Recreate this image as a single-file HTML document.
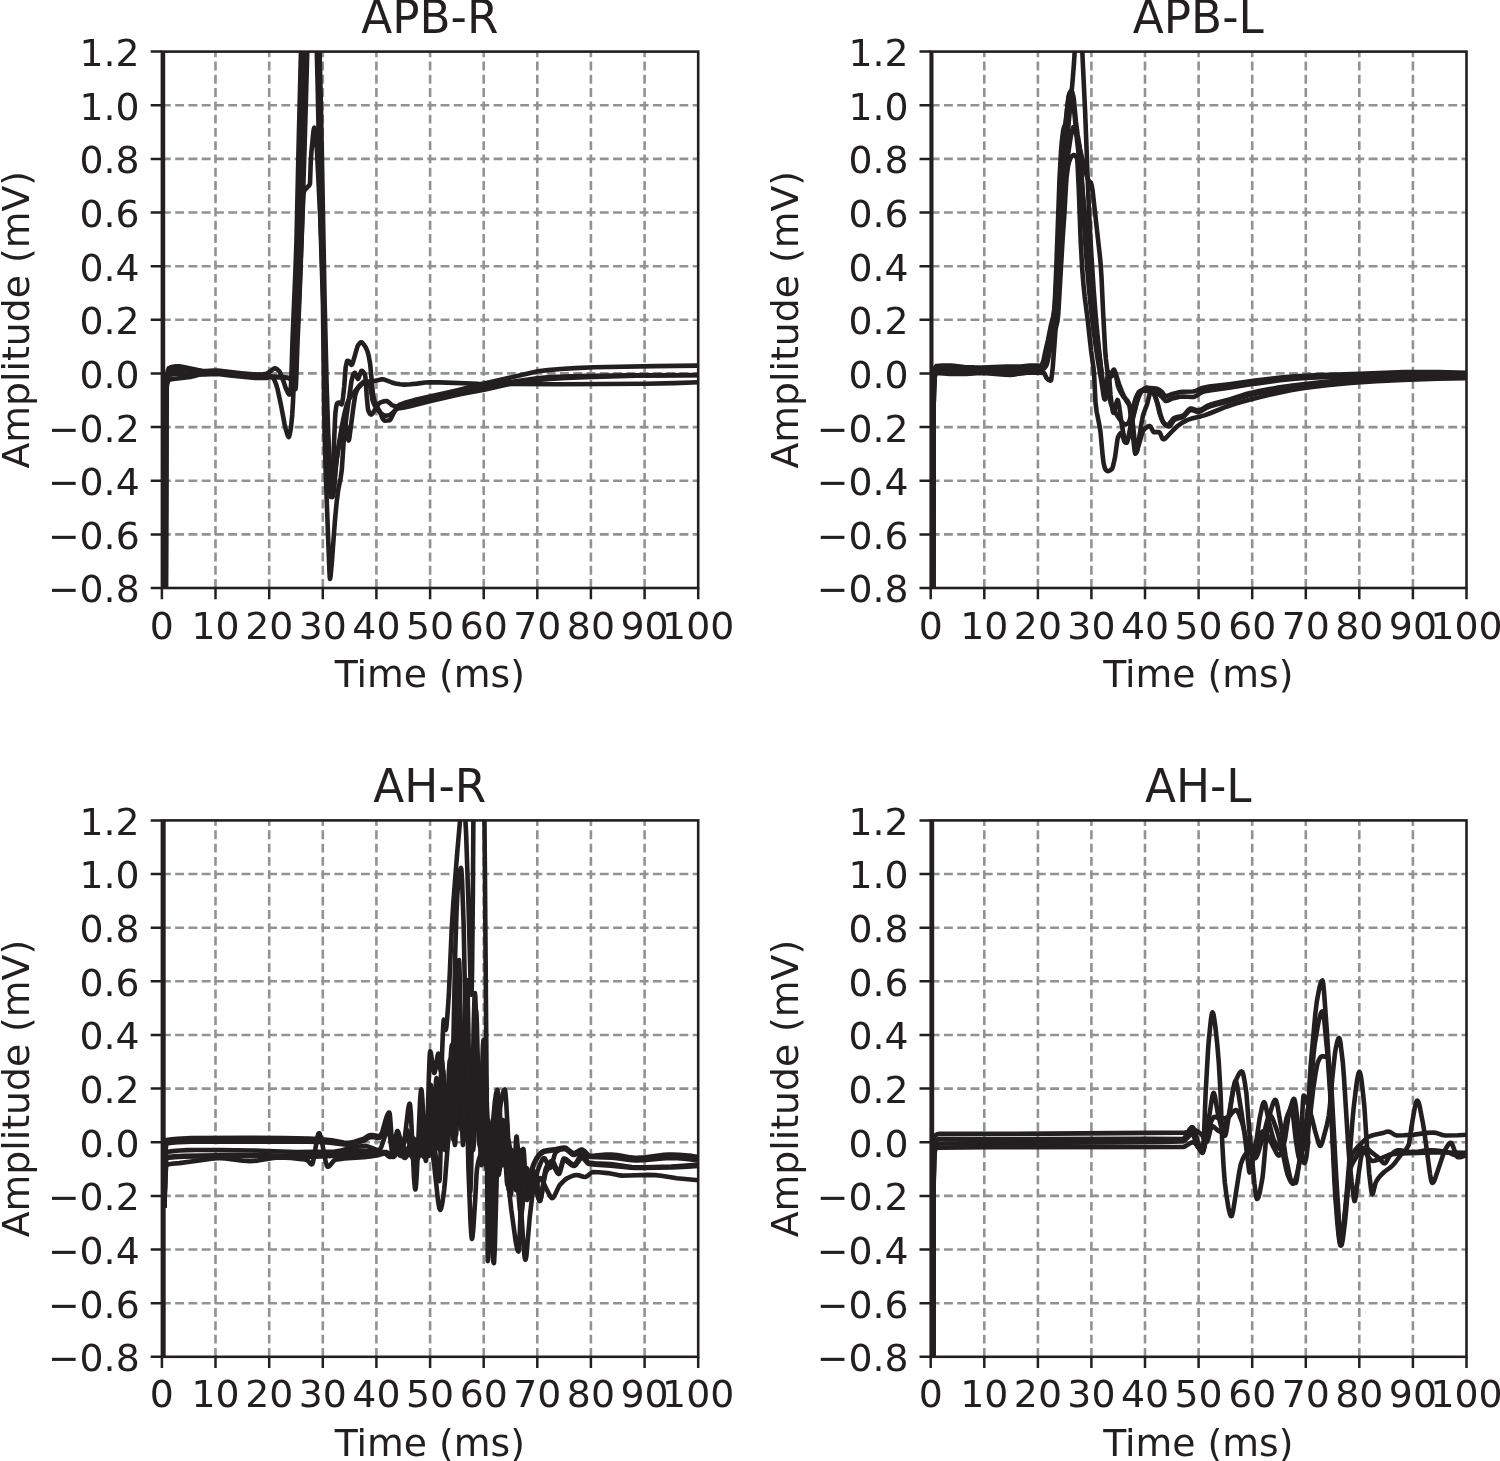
<!DOCTYPE html>
<html lang="en">
<head>
<meta charset="utf-8">
<title>Compound muscle action potentials</title>
<style>
html,body{margin:0;padding:0;background:#fff;}
body{width:1500px;height:1461px;overflow:hidden;}
svg{display:block;}
</style>
</head>
<body>
<svg width="1500" height="1461" viewBox="0 0 1500 1461">
<rect width="1500" height="1461" fill="#fff"/>
<defs>
<clipPath id="c0"><rect x="161.9" y="51.6" width="536.3" height="536.4"/></clipPath>
<clipPath id="c1"><rect x="930.7" y="51.6" width="535.8" height="536.4"/></clipPath>
<clipPath id="c2"><rect x="161.9" y="820.4" width="536.3" height="536.4"/></clipPath>
<clipPath id="c3"><rect x="930.7" y="820.4" width="535.8" height="536.4"/></clipPath>
</defs>
<g id="ax0">
<path d="M215.5,588 V51.6 M269.2,588 V51.6 M322.8,588 V51.6 M376.4,588 V51.6 M430.1,588 V51.6 M483.7,588 V51.6 M537.3,588 V51.6 M590.9,588 V51.6 M644.6,588 V51.6 M161.9,534.4 H698.2 M161.9,480.7 H698.2 M161.9,427.1 H698.2 M161.9,373.4 H698.2 M161.9,319.8 H698.2 M161.9,266.2 H698.2 M161.9,212.5 H698.2 M161.9,158.9 H698.2 M161.9,105.2 H698.2" fill="none" stroke="#909295" stroke-width="2.6" stroke-dasharray="8.9 4.37" stroke-dashoffset="0"/>
<g clip-path="url(#c0)" fill="none" stroke="#231f20" stroke-width="4.6" stroke-linejoin="round" stroke-linecap="round">
<path d="M162.9,40 162.9,600"/>
<path d="M165.6,600 165.9,420 166.4,380"/>
<path d="M165.8,600 166.2,420 166.8,384 167.8,377.4 168.6,375.3 169,375 171.8,374.4 176.6,374 189,374.5 205,374.5 215.8,374 219.8,374.3 229.8,375.5 255,377.9 266.2,378 270.6,377.1 272.2,377 273,377.6 274.2,379.7 276.2,384.5 277.4,388.6 281,405.1 284.6,424.2 285.4,427.8 287,433.5 287.8,435.8 288.6,437 289,436.7 289.8,434.1 291,427.4 292.2,415 293,401.7 294.2,373.8 296.2,311.4 299,240 300.2,201.3 303,94.2 305.8,-34.5 307.8,-75.8 308.6,-85.7 309,-88.6 309.5,-90 309.8,-89.4 310.2,-86.8 311,-76.9 313.4,-32.7 315,1.4 316.8,51.6 317.8,92.3 320.6,228 322.9,300 324.2,414 324.6,434.5 325.8,475.9 329.4,571 329.8,577.9 330,578.9 330.2,578.5 330.6,576 331.8,562.8 335,519.8 336.6,502.6 338.2,490 340.6,478.1 341.8,469.9 343.7,441 346.6,415.3 351.4,381.5 353,375.1 353.8,373.6 354.6,372.7 355,372.8 355.4,373.4 357.4,378.2 358,378.9 358.6,378.1 359.8,374.5 361.4,370.9 361.8,370.7 362.6,371.2 363.8,372.7 364.6,374.1 365.4,376.8 366.7,395.7 367.8,407.7 368.2,410.2 369,412.2 369.8,413.6 370.6,414.4 371.2,414.6 372.2,413.9 373.8,411.6 378,404.5 379.4,403.2 380.6,402.4 384.2,401.2 386.4,401 387.4,401.3 389.8,403.1 391.8,405.1 394.6,406.1 395.8,406.3 397.8,406.2 403.8,405.6 411.8,403.9 425.8,399.9 432.2,398.3 480.2,387.5 495.8,384.5 509,382.2 537,378.2 550.2,377 578.6,376 627.4,375.4 698.5,375"/>
<path d="M165.8,600 166.2,420 166.6,384.1 167,376.1 167.8,370.7 168.6,368.4 169,368 170.2,367.5 173,366.7 175.8,366.4 179,366.3 182.2,366.8 197.8,370.1 202.2,370.8 205.4,371 213.8,370.5 217.8,370.6 241.4,373.2 253,374.3 258,374.5 263,374.3 266.6,373.8 267.8,373.1 273.4,368.9 274.6,368.4 275.4,368.4 276.6,368.9 278.2,370.2 279.4,371.5 280.2,372.9 283.4,381.1 285.8,388.3 288.2,393.4 289,394.4 289.4,394.5 289.8,393.8 290.2,392.1 291,385.5 291.4,375.8 292.5,340 295.4,271.2 296.5,240 298.6,145.8 303.4,-47.5 305,-83.8 306.2,-105.5 307,-115.2 307.4,-118.2 307.8,-119.8 308,-120 308.2,-119.8 308.6,-118.6 309.4,-113 311,-92.2 315,-24.1 317.4,29.2 319,81 324.6,341.7 326.2,405.6 327,430 328.2,456.1 330.2,490.6 330.6,495.2 331,497 331.4,495.2 331.8,490.7 332.6,478 335,419.9 335.4,413.1 336.2,406.8 337,403.6 337.8,402.9 338.6,402.5 339.4,402.6 341,404.1 341.6,404.3 342.2,402.8 343,397.5 344.2,386.5 345.7,367 347,361.3 347.4,360.8 347.8,360.8 349.4,361.6 351,364.5 351.4,364.9 351.8,364.8 352.2,364.2 353,362.1 357.4,346.6 357.9,345.6 359.4,343.5 360.2,342.8 361,342.3 361.8,342.4 362.6,343 365.4,346.8 367.4,351.1 368.6,355.3 370.2,364.4 373,394.4 373.8,398.5 374.6,401.3 376.6,406.2 379.8,411.5 382.2,417.8 383.8,420.1 384.8,420.7 387.8,420.5 389.8,420.2 391,418.6 395.4,409.7 397.8,406.2 399,405.1 400.6,404.3 405.8,402.4 414.2,400.1 456.6,390.4 484.2,383.6 537.8,371.3 547.8,370.1 560.6,369 575,368.1 594.2,367.2 655,366.1 698.5,365.6"/>
<path d="M165.8,600 166.2,420 166.8,386 167.4,383 168.2,380.8 169,380 171.4,379.3 190.2,377 193.4,376.3 200.6,374.3 203.4,373.7 212.6,373 220.2,373.2 254.2,376.3 284.6,377.7 288.2,378 289,378.3 290.2,379.1 292,381 292.6,382.6 293.8,387.6 294.2,388.7 294.5,389 294.6,388.8 295,385.5 295.4,378.6 297,340 299.8,282.1 301.8,231.9 304.6,146.7 308.6,4.9 309.4,-18 311.4,-52.7 311.8,-56.9 312.2,-59.4 312.5,-60 313,-58.7 313.8,-51.9 316.6,-11 318.2,17.5 319.6,51.6 321,109.4 324.6,300 326.6,383.5 328.2,432.5 329.8,469 331.4,490.5 331.8,494.1 332.2,496.4 332.5,497 333,494.9 335.4,469.8 337,457.4 339.8,440.7 343.8,421.3 344.2,420.3 344.6,420 345,420.9 345.4,422.5 346.6,428.7 347.8,437.6 348.2,439.7 348.6,440.5 349,439.7 349.4,437.7 353.8,404.3 355,396.6 355.8,393 357.4,389.3 359,387 362.6,383.4 363.8,382.5 365,381.9 366.6,381.6 373,381.2 381,379.4 382.6,379.3 385,379.8 387.8,380.8 391.8,382.5 395.4,383.5 400.2,384.3 404.5,384.6 410.2,384.3 417,383.6 425.4,382.5 429.8,382.2 439.4,382.4 478.2,383.8 560,384.2 645.8,383.7 674.6,383.1 698.5,382.2"/>
<path d="M165.8,600 166.2,420 166.8,380 167.4,375.5 168.2,372.1 168.6,371.3 169,371 171.8,370.1 175,369.6 179,369.5 201.4,372.4 205.8,372.5 214.6,372 219.8,372.2 236.6,373.6 257,375.9 279.4,376.8 285,377.3 288.6,378 290,378.5 290.6,378.9 291.4,380 293,383 294.6,387.6 295,388.5 295.5,389 295.8,387.1 296.2,379.8 297.4,345 299.4,300 302.6,212.7 303.4,195.5 303.8,192 304.6,190.2 307.4,187.1 309,185.7 310,183.7 310.7,163.2 311.4,151.9 313.4,131.8 313.8,129 314.3,127.6 314.6,128.1 315,130 316,138 317,151.4 321,233.1 322.6,279.3 325.3,380 327,420.3 328.6,449.9 329.8,467.7 331.8,489.4 332.6,494.3 333,495 333.4,493.8 333.8,490.9 334.6,483 336,465 337.8,450.7 342.2,424.4 344.6,413 346.2,406.5 347,404 348.6,400.2 350.2,397.3 351.8,394.9 356,390 360.2,384.7 363.4,382.1 365,381.2 366.2,381 367.4,381.7 368.6,383.3 370,386 370.6,388.4 372.5,400 373.8,403.7 375.5,407 377.8,410.2 381,413.4 383.8,415.2 385,415.6 385.8,415.7 389,415.3 390.2,414.8 392.6,412.9 395.4,410.1 397,408.9 398,408.5 403,407.7 409,406.5 428.6,401.4 453.4,395.7 462.6,393.8 484.2,389.8 509.4,383.9 515.4,382.7 520.6,381.9 535,380.3 549.8,379 566.2,378 585.8,377.1 636.2,375.8 698.5,375.2"/>
</g>
<path d="M161.9,588 v11.2 M215.5,588 v11.2 M269.2,588 v11.2 M322.8,588 v11.2 M376.4,588 v11.2 M430.1,588 v11.2 M483.7,588 v11.2 M537.3,588 v11.2 M590.9,588 v11.2 M644.6,588 v11.2 M698.2,588 v11.2 M161.9,588 h-11.2 M161.9,534.4 h-11.2 M161.9,480.7 h-11.2 M161.9,427.1 h-11.2 M161.9,373.4 h-11.2 M161.9,319.8 h-11.2 M161.9,266.2 h-11.2 M161.9,212.5 h-11.2 M161.9,158.9 h-11.2 M161.9,105.2 h-11.2 M161.9,51.6 h-11.2" fill="none" stroke="#231f20" stroke-width="2.5"/>
<rect x="161.9" y="51.6" width="536.3" height="536.4" fill="none" stroke="#231f20" stroke-width="2.6"/>
<g font-family="DejaVu Sans, Liberation Sans, sans-serif" font-size="37.8" fill="#231f20">
<text x="161.9" y="638.6" text-anchor="middle">0</text>
<text x="215.5" y="638.6" text-anchor="middle">10</text>
<text x="269.2" y="638.6" text-anchor="middle">20</text>
<text x="322.8" y="638.6" text-anchor="middle">30</text>
<text x="376.4" y="638.6" text-anchor="middle">40</text>
<text x="430.1" y="638.6" text-anchor="middle">50</text>
<text x="483.7" y="638.6" text-anchor="middle">60</text>
<text x="537.3" y="638.6" text-anchor="middle">70</text>
<text x="590.9" y="638.6" text-anchor="middle">80</text>
<text x="644.6" y="638.6" text-anchor="middle">90</text>
<text x="698.2" y="638.6" text-anchor="middle">100</text>
<text x="139.7" y="602.4" text-anchor="end">−0.8</text>
<text x="139.7" y="548.8" text-anchor="end">−0.6</text>
<text x="139.7" y="495.1" text-anchor="end">−0.4</text>
<text x="139.7" y="441.5" text-anchor="end">−0.2</text>
<text x="139.7" y="387.8" text-anchor="end">0.0</text>
<text x="139.7" y="334.2" text-anchor="end">0.2</text>
<text x="139.7" y="280.6" text-anchor="end">0.4</text>
<text x="139.7" y="226.9" text-anchor="end">0.6</text>
<text x="139.7" y="173.3" text-anchor="end">0.8</text>
<text x="139.7" y="119.6" text-anchor="end">1.0</text>
<text x="139.7" y="66" text-anchor="end">1.2</text>
<text x="429.8" y="686.7" text-anchor="middle" font-size="37.75">Time (ms)</text>
<text transform="translate(29,319.8) rotate(-90)" text-anchor="middle" font-size="37.75">Amplitude (mV)</text>
<text x="429.8" y="32.7" text-anchor="middle" font-size="45.3">APB-R</text>
</g>
</g>
<g id="ax1">
<path d="M984.3,588 V51.6 M1037.9,588 V51.6 M1091.4,588 V51.6 M1145,588 V51.6 M1198.6,588 V51.6 M1252.2,588 V51.6 M1305.8,588 V51.6 M1359.3,588 V51.6 M1412.9,588 V51.6 M930.7,534.4 H1466.5 M930.7,480.7 H1466.5 M930.7,427.1 H1466.5 M930.7,373.4 H1466.5 M930.7,319.8 H1466.5 M930.7,266.2 H1466.5 M930.7,212.5 H1466.5 M930.7,158.9 H1466.5 M930.7,105.2 H1466.5" fill="none" stroke="#909295" stroke-width="2.6" stroke-dasharray="8.9 4.37" stroke-dashoffset="0"/>
<g clip-path="url(#c1)" fill="none" stroke="#231f20" stroke-width="4.6" stroke-linejoin="round" stroke-linecap="round">
<path d="M931.2,40 931.2,600"/>
<path d="M933,600 933.3,420 934,376"/>
<path d="M933.1,600 933.5,420 933.9,388.8 934.3,375.1 934.7,372.3 935.5,369.3 935.9,368.4 936.5,368 962.3,369 981.5,368.5 1010,369.5 1013.5,369.3 1028.7,367.5 1038.3,367.5 1042,368 1042.7,367.6 1043.5,366.5 1045.9,361 1047.1,357.3 1049.1,349.6 1053.9,325.5 1055,318 1055.5,312.6 1061.9,209.2 1064.3,174.3 1067.1,139.6 1072.3,84.3 1073.9,64.2 1074.7,51.6 1076.5,10 1077.9,-11.7 1078.3,-14.6 1078.5,-15 1078.7,-14.6 1079.1,-11.7 1079.5,-6.6 1080.7,13.6 1082.7,60.5 1085.1,110.8 1088.5,200 1089.9,228.9 1091.5,257 1093.9,292.9 1096,320 1099.5,354.7 1103.1,387.2 1104.7,397.5 1105.1,398.8 1105.3,399 1105.5,398.8 1106.3,395.5 1109.1,379.1 1109.5,378 1109.9,377.5 1112,376 1113.9,372 1114.3,371.6 1114.7,371.6 1115.1,372.1 1117.1,377.8 1119,384 1121.9,391.6 1123.9,396 1126.5,401 1129.5,405.6 1130.7,408.7 1131.5,413.1 1133,425 1135,444 1135.9,449.6 1136.3,451.3 1136.7,452 1137.1,451.2 1137.5,449.2 1141.1,425.4 1142.9,416 1143.9,412.7 1147,404.5 1149.5,394.7 1151.1,392 1152.3,391 1152.7,391.1 1153.5,392.2 1156.3,399.4 1158.3,405.8 1160.7,415.6 1163.1,421.8 1164.3,423.8 1165.5,424.9 1167.1,426.1 1168.5,426.5 1169.5,426.1 1170.3,425.4 1173.5,420.9 1174.7,419.7 1176.7,418.8 1181.5,417.6 1183.5,416.7 1185.1,415.3 1188.7,411.2 1190.3,410.1 1191.1,410 1192.3,410.2 1197.1,411.9 1199.1,411.9 1201.5,410.9 1207.1,407.5 1210.3,406.3 1216.3,404.5 1230.3,400.9 1247.1,395.8 1251.9,394.6 1262.7,392.3 1281.9,388.7 1301.5,385.9 1324.7,383.3 1348.3,381.3 1384.3,378.7 1398.3,378 1410.7,377.5 1467,377"/>
<path d="M933.1,600 933.5,420 933.9,390.8 934.3,378 935.1,373.5 935.9,371.4 936.5,371 939.9,371.2 947.5,372.4 951.9,372.5 965.9,371.9 975.9,370.7 980,370.5 985.9,370.9 1005.1,373.2 1010.3,373.5 1013.1,373.1 1019.5,371.6 1027.1,370.6 1038,370.5 1041.1,371 1041.9,370.4 1042.7,369 1044.3,365.2 1045.1,362.7 1048.3,348.6 1052.7,326.6 1053.5,321.8 1054.3,315.1 1057.1,269.7 1061.9,183.3 1065.9,122 1067.1,108.9 1068.3,98.5 1068.7,96.2 1069.5,93.5 1070.3,91.6 1071.1,90.6 1071.5,90.7 1072.3,92.2 1073.5,97 1073.9,99.8 1075.9,121.5 1077.7,135 1079.5,146 1080.3,153.2 1081.5,171.7 1084.3,226.5 1085.5,245.7 1087.9,277.1 1090.3,302.9 1092.7,323.7 1095.5,344.8 1097.5,358.2 1102.3,386.9 1103.5,395.3 1104.3,398.9 1104.7,399.3 1105.1,398.3 1106.7,388.6 1107.9,376.3 1108.3,373.2 1108.7,372 1109.1,372.2 1110.3,374.2 1110.8,374.6 1111.5,373.9 1113.5,369.7 1113.9,369.5 1114.3,369.9 1116,376 1117.9,385.7 1119.1,389 1120.7,392.3 1123.5,396.8 1126.7,400 1127.9,401.5 1128.7,403 1129.5,405.2 1134.3,447.9 1134.7,451.1 1135.1,453.2 1135.4,453.7 1135.9,453.3 1136.3,452.4 1137.9,447.8 1141.9,434.2 1143.1,430.9 1143.7,430 1145.5,428.2 1147.9,426.5 1149.5,426 1150.3,426.3 1151.1,427.5 1152.7,430.8 1153.5,431.9 1153.9,432.1 1159,432.1 1159.5,432.4 1160.3,433.7 1162.3,438.4 1163.1,439.3 1163.9,439.2 1165.1,438.6 1166.3,437.5 1169.5,434 1177.1,426.3 1182.3,422.6 1187.1,420.1 1191.5,418.6 1200.7,416.4 1205.1,415.1 1210.7,413 1226.3,406.7 1236.7,403.3 1250.3,399.5 1275.5,393.4 1290.7,390.2 1304.3,387.9 1327.1,385.1 1350.3,382.9 1376.3,381.2 1402.7,379.9 1438.3,378.7 1467,378.2"/>
<path d="M933.1,600 933.5,420 933.9,387.5 934.3,373.1 935.1,368.5 935.5,367.3 936.3,366.1 942.3,365.6 951.5,365.5 964.3,367 974.3,367.4 981.5,367.5 1006.7,366.5 1020.7,366.5 1029.9,365.5 1038,365.5 1040,366.5 1040.7,366.2 1041.9,364.4 1043,362 1043.5,360.4 1045,353 1048,340 1051.1,324.5 1053.1,316.7 1054.3,309.1 1055.1,295.8 1056.3,267.8 1059.5,179.2 1061.1,150 1061.9,140.8 1063.1,131.1 1063.9,127.6 1065.1,124.5 1065.5,123 1068.3,99.1 1069.1,95.2 1069.5,93.8 1069.9,93 1070.3,93.1 1071.1,94.5 1072.3,98.2 1074.3,112.5 1077,140 1080.7,171.6 1087.9,243.7 1091.9,288.9 1094.3,313.5 1096.3,331.3 1101,368 1104.3,396.3 1104.6,397 1104.7,396.9 1105.1,395.1 1107.1,379.7 1107.5,378 1108.3,376.5 1108.7,376.1 1109,376 1109.1,376.2 1110.5,395 1111.9,406.3 1112.7,410.9 1113.1,412.2 1113.5,412.7 1113.9,412.3 1116.7,401.7 1117.5,400 1117.9,400.3 1119.1,405.5 1121.5,423 1123.1,432.1 1124.5,438 1125.5,441.2 1126.3,442.7 1126.7,442.7 1127.1,442.2 1128.3,438.6 1129.9,432.5 1134.7,410.2 1136.7,402.9 1138.7,397 1140,394 1141.9,391.1 1144.7,388.6 1145.9,387.9 1146.7,387.6 1148.3,387.9 1150.7,389.3 1151.9,390.4 1153.1,392.3 1154.7,395.5 1156.3,400 1157.1,402.8 1159.5,413.1 1161.9,419.9 1163.1,422.1 1164.3,423.4 1165.9,424.6 1167.3,425 1168.3,424.7 1169.1,424 1172.7,419.3 1173.9,418.1 1175.9,417.3 1181.1,416.2 1183.1,415.5 1184.7,414.2 1188.3,410 1189.5,409 1190.3,408.6 1191.1,408.5 1192.3,408.7 1197.1,410.4 1199.1,410.4 1201.5,409.4 1207.1,405.9 1209.9,404.8 1215.9,403 1230.3,399.2 1247.1,393.8 1251.5,392.7 1259.1,391.1 1276.3,387.9 1294.3,385.3 1315.9,382.7 1337.5,380.6 1357.9,379 1385.1,377.5 1404.7,376.7 1436.7,376.2 1467,376"/>
<path d="M933.1,600 933.5,420 933.9,392.1 934.3,380 934.7,377.3 935.5,374.3 935.9,373.4 936.5,373 950,374 966.3,374 976.7,373.1 980.7,373 985.9,373.2 1005.1,374.8 1010.3,375 1013.1,374.7 1019.5,373.6 1027.1,372.6 1040.3,372.6 1043.5,372.9 1044.3,373.2 1046.5,378 1048.7,379.9 1049.9,380.5 1050.8,380.6 1051.1,380.1 1051.5,378.1 1052.7,368.1 1055.5,330 1055.9,327.6 1057.5,321 1058.3,313.4 1062.7,237.8 1064.5,212 1065.9,186.6 1066.6,177 1067.9,167.1 1069,162 1070.7,157.6 1071.5,156.5 1073.1,155.2 1073.9,155 1074.7,155.2 1075.5,155.9 1076.3,157 1077.1,158.9 1077.5,162.9 1078.8,190 1080.7,241.5 1082.3,270.3 1083.5,285 1084.7,296.8 1087.7,320 1091.1,350.8 1093.5,367.8 1094.3,378 1095.5,402.3 1096.7,411.9 1099.5,425.7 1100.5,432.1 1102.7,455.9 1103.5,462.5 1104.3,466.2 1105.1,468.8 1105.9,470 1107.1,471 1107.7,471.1 1108.7,471 1110.3,470.2 1111.9,468.9 1112.7,467.2 1113.5,464.2 1115.1,456.8 1117.5,439.2 1118,437.3 1119.5,434.3 1120.7,433.1 1121.1,433 1121.5,433.4 1122.3,435.1 1124.3,441.3 1125.1,442.4 1125.9,442 1127.1,440.1 1128.7,436 1131.3,422 1135.1,409.6 1137.9,396.6 1138.7,393.7 1139.5,392.1 1141.1,390.7 1143.5,389.1 1145.5,388.3 1147.5,388 1150.7,388.1 1156,388.5 1157.5,388.9 1159.5,390 1162.1,392.1 1164.3,395.5 1164.7,396 1165.5,396.2 1167.5,395.8 1172.3,394 1180.3,392.1 1183.1,391.8 1192.9,391.5 1194.3,391.3 1196.3,390.6 1202.3,387.9 1209.1,386.6 1229.1,384.2 1255.1,380.5 1278.3,377.8 1294.3,376.4 1314.7,375.3 1359.5,373.9 1404.3,372.1 1438.3,372.1 1467,372.9"/>
<path d="M933.1,600 933.5,420 933.9,389.8 934.3,376.5 935.1,372 935.9,369.9 936.5,369.5 962.3,370.5 981.5,370 1010,371 1013.5,370.8 1028.7,369 1038.3,369 1042,369.5 1043.1,369.2 1043.9,368.6 1046,366 1046.7,364.5 1047.5,361.7 1051.9,341 1054.3,327.5 1055.9,315.9 1057.5,295.5 1063.1,205.8 1065.5,175 1067.1,160.9 1070.7,136.9 1072.3,129.8 1073.1,127.4 1073.5,127 1073.9,127.2 1074.7,128.9 1077.1,137.1 1083.9,165.8 1086.3,174.5 1087.5,178 1088.7,180.7 1089.3,181.5 1090.7,182.4 1091.1,183.2 1091.9,186.6 1092.7,191.4 1099.9,256.2 1100.7,264.8 1101.5,277.4 1103.1,312 1105.1,349.6 1105.9,359 1107.6,373 1108.7,390.9 1109.5,397.7 1110.7,403.1 1112.3,407 1116.3,414.1 1119.5,419.1 1122.7,423 1123.9,424.1 1124.7,424.5 1125.9,424.4 1127.5,423.7 1128.7,422.8 1129.9,419.6 1134.3,402.8 1135.9,397.8 1137.5,394.3 1138.7,392.2 1139.9,391.3 1142.3,390.5 1144.7,390.6 1151.1,391.4 1154.3,392 1156.7,392.8 1158.7,394.1 1162,397 1165.1,400.6 1165.5,400.9 1166.3,401 1167.9,400.6 1172.3,398.5 1179.9,396.7 1183.1,396.5 1191.5,397 1193.9,396.9 1196.3,395.9 1200.3,393.2 1202.3,392.1 1205.1,391.3 1209.5,390.5 1229.1,387.8 1255.5,383.6 1279.9,380.3 1295.5,378.6 1305.5,377.9 1322.7,377.2 1399.1,374.7 1435.9,374.5 1467,375"/>
</g>
<path d="M930.7,588 v11.2 M984.3,588 v11.2 M1037.9,588 v11.2 M1091.4,588 v11.2 M1145,588 v11.2 M1198.6,588 v11.2 M1252.2,588 v11.2 M1305.8,588 v11.2 M1359.3,588 v11.2 M1412.9,588 v11.2 M1466.5,588 v11.2 M930.7,588 h-11.2 M930.7,534.4 h-11.2 M930.7,480.7 h-11.2 M930.7,427.1 h-11.2 M930.7,373.4 h-11.2 M930.7,319.8 h-11.2 M930.7,266.2 h-11.2 M930.7,212.5 h-11.2 M930.7,158.9 h-11.2 M930.7,105.2 h-11.2 M930.7,51.6 h-11.2" fill="none" stroke="#231f20" stroke-width="2.5"/>
<rect x="930.7" y="51.6" width="535.8" height="536.4" fill="none" stroke="#231f20" stroke-width="2.6"/>
<g font-family="DejaVu Sans, Liberation Sans, sans-serif" font-size="37.8" fill="#231f20">
<text x="930.7" y="638.6" text-anchor="middle">0</text>
<text x="984.3" y="638.6" text-anchor="middle">10</text>
<text x="1037.9" y="638.6" text-anchor="middle">20</text>
<text x="1091.4" y="638.6" text-anchor="middle">30</text>
<text x="1145" y="638.6" text-anchor="middle">40</text>
<text x="1198.6" y="638.6" text-anchor="middle">50</text>
<text x="1252.2" y="638.6" text-anchor="middle">60</text>
<text x="1305.8" y="638.6" text-anchor="middle">70</text>
<text x="1359.3" y="638.6" text-anchor="middle">80</text>
<text x="1412.9" y="638.6" text-anchor="middle">90</text>
<text x="1466.5" y="638.6" text-anchor="middle">100</text>
<text x="908.5" y="602.4" text-anchor="end">−0.8</text>
<text x="908.5" y="548.8" text-anchor="end">−0.6</text>
<text x="908.5" y="495.1" text-anchor="end">−0.4</text>
<text x="908.5" y="441.5" text-anchor="end">−0.2</text>
<text x="908.5" y="387.8" text-anchor="end">0.0</text>
<text x="908.5" y="334.2" text-anchor="end">0.2</text>
<text x="908.5" y="280.6" text-anchor="end">0.4</text>
<text x="908.5" y="226.9" text-anchor="end">0.6</text>
<text x="908.5" y="173.3" text-anchor="end">0.8</text>
<text x="908.5" y="119.6" text-anchor="end">1.0</text>
<text x="908.5" y="66" text-anchor="end">1.2</text>
<text x="1198.3" y="686.7" text-anchor="middle" font-size="37.75">Time (ms)</text>
<text transform="translate(797.8,319.8) rotate(-90)" text-anchor="middle" font-size="37.75">Amplitude (mV)</text>
<text x="1198.3" y="32.7" text-anchor="middle" font-size="45.3">APB-L</text>
</g>
</g>
<g id="ax2">
<path d="M215.5,1356.8 V820.4 M269.2,1356.8 V820.4 M322.8,1356.8 V820.4 M376.4,1356.8 V820.4 M430.1,1356.8 V820.4 M483.7,1356.8 V820.4 M537.3,1356.8 V820.4 M590.9,1356.8 V820.4 M644.6,1356.8 V820.4 M161.9,1303.2 H698.2 M161.9,1249.5 H698.2 M161.9,1195.9 H698.2 M161.9,1142.2 H698.2 M161.9,1088.6 H698.2 M161.9,1035 H698.2 M161.9,981.3 H698.2 M161.9,927.7 H698.2 M161.9,874 H698.2" fill="none" stroke="#909295" stroke-width="2.6" stroke-dasharray="8.9 4.37" stroke-dashoffset="0"/>
<g clip-path="url(#c2)" fill="none" stroke="#231f20" stroke-width="4.6" stroke-linejoin="round" stroke-linecap="round">
<path d="M163.4,810 163.4,1370"/>
<path d="M164.4,1142 164.6,1206"/>
<path d="M164.5,1206 165.2,1160 165.7,1150.3 166.1,1145.3 166.5,1143.5 172.1,1142.7 178.1,1142.2 192.1,1141.6 308.1,1141.8 317.7,1142 330.1,1142.6 344.1,1144.5 347.3,1144.6 350.5,1144.4 355.7,1143.3 363.3,1140.9 364.9,1140.1 368.5,1137.8 370.1,1137.1 372.5,1137.1 378.5,1138 379.3,1137.9 379.7,1137.7 380.9,1135.7 382.1,1132.5 385.7,1119.7 386.9,1116 388.1,1113.5 388.9,1112.6 389.3,1112.5 389.7,1113.7 390.1,1117 392.1,1144.4 392.5,1148.1 393,1150 393.3,1149.7 393.7,1148.7 394.1,1147 396.1,1135 396.9,1131.7 397.3,1131 397.7,1131.1 398.5,1132.6 401.3,1142.9 402.1,1145.1 402.5,1145.8 402.9,1146 403.3,1145.6 404.1,1142.5 404.9,1137.2 408.1,1109.6 408.9,1105.3 409.3,1104.1 409.7,1103.7 410.1,1105 410.9,1113.8 414.1,1179.4 414.9,1188.2 415.3,1189.5 415.7,1188.2 416.1,1184.6 416.9,1171.9 420.1,1099.8 420.9,1090.7 421.3,1089.4 421.7,1090.9 422.5,1101.5 424.9,1152.2 425.3,1157.6 425.7,1160.5 425.9,1160.9 426.1,1160.2 426.5,1155.1 426.9,1145.9 428.9,1075.5 429.7,1055.6 430.1,1051.7 430.2,1051.5 430.5,1051.8 430.9,1053.2 433.3,1069.8 434.1,1072.9 434.3,1073 434.5,1072.9 435.3,1070.1 437.3,1057.1 437.7,1055.2 438.1,1054 438.4,1053.7 438.9,1055.5 440.5,1070.2 441,1072 441.3,1070.3 441.7,1063.8 442.9,1032.4 443.3,1024.1 443.7,1019.9 443.8,1019.7 444.1,1020.5 445.3,1029.2 445.6,1030 446.1,1028.6 446.5,1025.8 447.3,1016.9 448.9,993.5 451.7,928.7 453.3,902.9 457.3,851.7 461.7,801.5 462.5,795.6 462.9,795.1 463.3,796.3 464.1,803 465.5,822 466.1,833.4 468.5,905 470.5,980 470.9,990 471.3,994.8 471.7,990.3 472.1,970.4 472.9,892.6 476.1,402.4 476.9,324.6 477.3,304.7 477.6,300 478.1,303.7 478.5,311.7 479.7,360.6 480.5,411.6 481.7,511.3 484.9,869.5 486.8,1110 487.7,1261.1 488.1,1258.5 488.9,1240.4 490.9,1163.7 491.7,1140.2 493.3,1118.3 494.9,1101.3 496.1,1093.1 496.9,1090.4 497.3,1090 497.7,1091.3 498.1,1094.9 500.5,1134.5 501.3,1142.3 502.5,1149.9 505.7,1165.1 506.9,1172 508.1,1181.2 511.3,1209.8 515.7,1241.7 517.3,1249.5 518.1,1251.3 518.5,1251.5 518.9,1249.5 519.7,1235.5 522.1,1164.9 522.9,1150.9 523.3,1148.9 523.7,1150.6 524.1,1155 526.1,1192.4 526.5,1197.5 527,1200 527.3,1199.8 527.7,1198.9 528.5,1195.5 532.9,1168.3 534.1,1162.8 536.5,1158.1 539.3,1154.1 541.7,1151.9 542.9,1151.2 544.5,1150.7 548.1,1150 556.1,1149 562.1,1147.7 564.5,1147.5 565.3,1147.7 566.5,1148.2 571.3,1152 572.5,1152.6 573.7,1153 574.5,1153 575.7,1152.6 580.5,1149.8 581.7,1149.5 582.5,1149.6 584.1,1150.6 588.1,1154.8 588.9,1155.4 590,1155.7 594.9,1155.5 606.1,1154.6 611.3,1154.5 617.3,1155.1 630.9,1157.4 634.5,1157.7 637.7,1157.8 645.7,1157.3 664.1,1154.9 668.5,1154.6 672.5,1154.5 678.9,1154.7 685.3,1155.2 691.7,1155.9 698.5,1157"/>
<path d="M164.5,1206 165.2,1170 166.1,1154.1 166.5,1152 172.9,1151.1 179.7,1150.5 187.3,1150.1 196.9,1150 220.1,1150.1 252.1,1150.5 296.1,1152 315.7,1151.9 334.9,1151.5 339.3,1150.9 349.7,1148.1 358.9,1146.5 364.5,1146 366.1,1146.1 367.7,1146.4 375.7,1149.4 377.3,1149.8 379,1150 379.7,1149.7 380.1,1149.2 381.3,1147 385.3,1135.1 386.5,1132 387.7,1130.1 388.5,1129.7 388.9,1130.3 389.7,1134.5 391.7,1150.1 392.1,1152 392.6,1153 393.3,1152.7 394.1,1151.7 398.1,1143 399.3,1141.3 400,1141 400.5,1141.2 401.3,1142.3 404.9,1151 405.7,1151.9 406.1,1152 406.5,1151.8 407.3,1150.7 408.1,1149 411.3,1140.1 412.1,1138.6 412.5,1138.2 413,1138 413.7,1138.6 414.5,1140.5 417.7,1152.1 418.5,1153.7 419,1154 419.3,1153.8 419.7,1153 420.1,1151.6 422.5,1139.1 423.3,1136 423.7,1135.2 424,1135 424.5,1135.1 425.3,1135.6 426.5,1137 428.1,1140 429.7,1144 431.8,1150 432.5,1152.9 434.1,1164.5 438.1,1201.3 439.3,1208 440.1,1209.9 440.5,1209.9 441.3,1208.1 442.5,1202 444.2,1189.6 444.9,1182.6 449,1128 450.9,1095 452.4,1080 452.9,1064.7 455.3,949.8 456.5,912.5 457.3,895.5 458.1,883.9 459.7,871.9 460.5,868.6 461,868 461.3,869.1 461.7,873.8 462.1,881.3 463.7,926.7 467.3,1117.8 468.5,1170.9 470.5,1222.1 471.3,1234.9 471.7,1238.1 472,1238.9 472.5,1237.2 473.3,1229.1 475.3,1198.1 476.5,1175 477,1169 478.1,1162.6 479.3,1158.2 481.7,1151.5 482.5,1150.3 483,1150 483.3,1150.2 484.1,1152.2 484.9,1155.9 487.3,1172.4 488.5,1187.7 492.1,1249.9 493.3,1261.5 493.7,1263 493.9,1263.2 494.1,1262.4 494.9,1245.9 497.3,1154.6 498.9,1123.9 500.1,1108.1 500.9,1102.6 502.9,1093 503.7,1090.7 504.1,1089.9 504.8,1089.4 505.3,1091.2 506.1,1100.4 508.1,1137.2 508.9,1148.9 511.3,1173.7 512.1,1180 512.9,1184 513.5,1185 513.7,1184.4 514.1,1180 516.1,1138.9 516.5,1136.5 516.9,1137.9 517.7,1147.2 519.7,1185.4 523.3,1243.3 524.5,1256.3 524.9,1258.6 525.4,1259.7 525.7,1259.3 526.1,1257.6 526.5,1254.9 529.7,1217.6 532.5,1193.4 533.7,1186.8 534.3,1185.8 534.9,1186.3 535.3,1187.2 538.5,1199 539.3,1200.7 539.7,1200.9 540.1,1200.6 540.9,1198.1 541.7,1193.9 544.1,1176.9 545.3,1170.2 546,1168 547.7,1165 549.3,1162.7 550.9,1161.3 552.1,1161 552.5,1161.2 553.3,1162 554.1,1163.4 557.3,1170.5 558.1,1171.6 558.9,1172 559.3,1171.8 560.1,1170.1 562.5,1161.3 563.3,1159.2 563.7,1158.6 564.5,1158.5 566.1,1159.2 571.7,1163.8 572.9,1164.4 574.1,1164.6 574.9,1164.2 576.1,1162.9 580.1,1155.9 580.9,1155 582,1154.5 582.9,1154.9 583.7,1155.7 587.3,1161.3 588.1,1162.1 588.9,1162.6 594.9,1163.2 610.9,1164.1 631.7,1167.1 636.1,1167.3 644.9,1167.2 671.3,1166.5 683.3,1165.8 698.5,1164.6"/>
<path d="M164.5,1206 165.2,1172 165.7,1163.3 166.1,1158.7 166.5,1157 174.5,1156.2 183.7,1155.8 233.3,1155.1 256.1,1155 290.1,1155.9 303.3,1155.9 314.1,1155.1 338.1,1152.2 352.5,1150.8 359.3,1150.5 364.1,1150.7 376.5,1151.9 386.1,1152 387.7,1152.6 390.5,1154.5 392,1155 392.5,1154.9 393.3,1154.4 396.5,1150.8 397.3,1150.2 398,1150 398.5,1150.1 399.3,1150.6 402.5,1154.2 403.3,1154.8 404,1155 404.5,1154.9 405.3,1154.2 408.5,1149.1 409.3,1148.3 410,1148 410.5,1148.2 411.3,1149 414.5,1154.8 415.3,1155.7 416,1156 416.5,1155.8 417.3,1154.7 420.5,1146.7 421.3,1145.4 422,1145 422.5,1145.4 422.9,1146.1 425.3,1154.1 426.1,1155.8 426.5,1156 426.9,1154.3 427.3,1149.5 429.7,1096.6 430.1,1090 430.5,1086 430.8,1085 431.3,1087 432.1,1097.1 434.1,1136.9 434.9,1149 437.7,1174.6 438.5,1179.1 438.9,1180.4 439.4,1181 439.7,1178.6 440.1,1169.2 442.1,1094.2 442.5,1090 442.9,1094.1 444.5,1143.8 444.9,1149.7 445,1150 445.3,1149.1 445.7,1145.2 446.5,1130.6 448.9,1071.2 449.3,1064.8 449.7,1060.9 450,1060 450.5,1064.4 450.9,1073.1 452.9,1133.8 453.3,1139.2 453.5,1140 453.7,1139.1 454.5,1119.7 456.5,1030.3 456.9,1017.9 457.3,1010.9 457.5,1010 457.7,1010.9 458.1,1017.3 458.5,1028.8 460.1,1096.2 460.9,1122.7 461.3,1129.1 461.5,1130 461.7,1129.1 462.5,1109.7 464.5,1020.3 464.9,1007.9 465.3,1000.9 465.5,1000 465.7,1001 466.1,1008.6 466.5,1022.4 468.9,1156.3 469.7,1186.2 470.2,1192.3 470.5,1190 470.9,1180.4 471.3,1164.7 473.7,1025.3 474.5,997.1 474.9,993 475.3,996.2 476.1,1018.6 478.1,1111.3 478.9,1137.9 479.3,1144.2 479.5,1145 479.7,1144.2 480.5,1128.6 482.1,1069.6 482.9,1046.4 483.3,1040.8 483.5,1040 483.7,1040.3 484.1,1042.9 484.9,1054.5 485.7,1072.6 490.9,1220.6 491.3,1228.8 491.7,1233.8 492,1235 492.5,1230.7 492.9,1222.1 494.9,1153.5 495.7,1136.6 496,1135 496.5,1136.9 498.5,1163.1 498.9,1167.3 499.3,1169.7 499.5,1170 499.7,1169.5 500.1,1166.1 502.1,1128.2 502.5,1122.8 503,1120 503.3,1120.8 503.7,1124.2 504.1,1129.8 506.1,1170 506.9,1181.8 507.3,1184.6 507.5,1185 507.7,1184.7 508.1,1182.9 508.9,1175.1 510.5,1155.5 510.9,1152.1 511.3,1150.3 511.5,1150 511.7,1150.2 512.1,1151.9 512.5,1155 514.9,1184 515.3,1187.4 515.7,1189.5 516,1190 516.5,1189.3 516.9,1187.9 519.7,1169.2 520.5,1165.7 521,1165 521.3,1165.5 521.7,1167.6 523.7,1186.7 524.1,1189.1 524.5,1190 524.9,1189.6 525.7,1186.8 528.1,1173.9 528.5,1172.6 529,1172 529.3,1172.2 529.7,1173 530.1,1174.2 532.5,1186.1 533.3,1189 533.7,1189.8 534,1190 534.5,1189.8 535.3,1188.6 538.9,1179.1 539.7,1178.1 540.5,1178.1 541.3,1178.8 542.5,1180.6 546.1,1188.3 550.1,1196.1 551.3,1197.7 552.1,1198.1 552.5,1198 553.3,1197.5 554.5,1195.8 558.5,1187.2 559.7,1185.1 563.3,1181.3 566.9,1178.4 572.1,1176 574.1,1175.4 576.1,1175 578.5,1175.2 583.3,1176.8 585.3,1177 586.1,1176.7 587.3,1176 591.3,1172.7 592.9,1172.1 598.9,1172.3 607.7,1173.1 618.1,1175.1 622.1,1175.6 628.9,1175.5 647.7,1174.9 655.3,1175.1 661.3,1175.8 676.9,1178.2 698.5,1180.3"/>
<path d="M164.5,1206 165.2,1180 166.1,1166.9 166.5,1165 168.9,1164.2 171.7,1163.7 179.3,1163.1 211.7,1158.8 216.9,1158.3 220.9,1158.2 225.3,1158.4 242.9,1160.8 250.5,1161.2 257.7,1160.6 273.3,1158 279.7,1157.5 284.9,1157.6 290.9,1158 301.7,1159.1 305.7,1159.7 307,1160 307.7,1160.4 310.5,1163.7 311.3,1164.3 311.8,1164.4 312.1,1164.2 312.5,1163.6 313.3,1160.9 317.3,1137.6 318.1,1134.5 318.5,1133.6 318.9,1133.2 319.3,1133.3 319.7,1133.8 320.9,1137.2 322.1,1142.8 325.7,1162 326.9,1165.8 327.7,1166.8 328.5,1166.6 329.7,1165.7 333.7,1160.8 334.5,1160.2 335.7,1159.8 339.7,1159.1 344.1,1158.5 363.7,1157.1 370.5,1156.4 379.3,1154.9 384.1,1153.5 386.1,1153.1 387.3,1153 388.1,1153.4 391.7,1156.5 393,1157 393.7,1156.8 394.5,1156.2 397.7,1152.6 398.5,1152.1 399.3,1152 400.5,1152.9 403.7,1157.3 404.5,1157.9 405.3,1157.9 406.5,1156.7 409.7,1151 410.5,1150.2 410.9,1150 411.3,1150.1 412.1,1150.8 415.7,1157.9 416.5,1158.8 417,1159 417.7,1158.5 418.1,1157.9 418.9,1156.2 421.3,1149.3 422.1,1147.7 422.9,1147 423.3,1147.1 424.1,1147.9 427.3,1154.9 428.1,1155.9 428.5,1156 428.9,1154.8 429.3,1151.3 431.7,1111.3 432.5,1101.9 432.9,1100.1 433,1100 433.3,1100.8 434.1,1108.9 436.1,1141.8 436.5,1145.9 436.9,1147.9 437,1148 437.3,1147.1 438.1,1137 440.5,1084.2 440.9,1078.5 441.3,1075.4 441.5,1075 441.7,1075.4 442.1,1078.4 442.5,1083.8 444.9,1134.5 445.3,1140.4 445.7,1144.1 446,1145 446.5,1143 447.3,1133 450.5,1060.6 451.3,1048.8 451.7,1045.7 452,1045 452.5,1048.9 452.9,1056.6 455.3,1127.7 455.7,1133.6 456,1135 456.1,1134.8 456.5,1130.1 456.9,1120.2 459.3,1029.3 459.7,1021.8 460,1020 460.5,1025.2 460.9,1035.5 462.9,1117.8 463.7,1138.1 464,1140 464.1,1139.8 464.5,1136.1 464.9,1128.4 466.9,1066.7 467.3,1057.3 467.7,1051.4 468,1050 468.5,1054.3 468.9,1062.9 470.9,1131.5 471.3,1141.9 471.7,1148.4 472,1150 472.5,1144 472.9,1131.9 474.9,1035.9 475.3,1021.4 475.7,1012.2 476,1010 476.5,1014.8 476.9,1024.6 479.3,1125.4 480.1,1146.9 480.5,1150 480.9,1148.6 481.7,1138.6 484.1,1091.8 484.5,1087.2 485,1085 485.3,1086 485.7,1089.9 486.1,1096.3 488.1,1142.7 488.9,1156.4 489.3,1159.6 489.5,1160 489.7,1159.9 490.5,1157.5 492.9,1143 493.7,1140.3 494.1,1140.1 494.5,1141.2 495.3,1147.1 497.7,1172.1 498.1,1174.2 498.5,1175 498.9,1174.3 499.7,1169.2 502.5,1139.2 503.3,1135.2 503.5,1135 503.7,1135.2 504.1,1136.8 504.9,1143.9 507.7,1182.2 508.5,1188.7 508.9,1189.9 509.3,1189.6 510.1,1185.7 512.9,1159.3 513.3,1156.9 513.7,1155.4 514,1155 514.5,1155.8 515.3,1159.9 518.1,1184.4 518.9,1188.8 519.3,1189.9 519.7,1189.9 520.5,1188.1 523.7,1171.1 524.5,1168.5 524.9,1168 525.3,1168.2 526.1,1170.5 528.9,1185.5 529.3,1186.9 529.7,1187.8 530,1188 530.5,1187.6 531.3,1185.7 534.1,1174.6 534.9,1172.5 535.5,1172 535.7,1172.2 536.1,1173.6 536.5,1176.1 538.9,1198.2 539.3,1200.2 539.7,1200.9 540.1,1200.6 540.5,1199.8 541.3,1196.8 544.1,1180 545.3,1174 546,1172 547.3,1169.7 548.9,1167.2 550.1,1165.9 551.3,1165.1 552,1165 552.5,1165.1 553.3,1165.8 554.1,1167 557.3,1172.8 558.1,1173.7 558.9,1174 559.3,1173.8 560.1,1172 562.9,1161.7 563.3,1160.7 564,1160 564.9,1160.1 566.1,1160.7 571.7,1165.2 572.9,1165.8 574,1166 574.9,1165.7 575.7,1165.1 580.1,1159.1 580.9,1158.4 582,1158 582.9,1158.3 583.7,1158.8 587.3,1163 588.1,1163.6 588.9,1164 595.3,1164.7 610.9,1165.6 630.9,1167.8 635.7,1168 643.3,1168 671.7,1167.5 683.3,1167 698.5,1166"/>
<path d="M164.5,1206 165.2,1174 166.1,1159.9 166.5,1158 174.5,1157.2 183.3,1156.8 218.1,1156.3 253.7,1156.2 292.1,1156.9 307.7,1156.9 320.9,1156.4 358.1,1154.6 378.5,1154 384,1153 385.3,1153.5 388.5,1156.4 389.3,1156.8 390,1157 390.5,1156.9 391.3,1156.3 394.5,1151.9 395.3,1151.2 396,1151 396.5,1151.1 397.3,1151.8 400.1,1155.6 400.9,1156 401.7,1155.8 402.9,1154.6 406.1,1149.8 406.9,1149.2 407.5,1149 408.1,1149.3 408.9,1150.5 411.7,1156.7 412.5,1157.8 413,1158 413.7,1157.5 414.5,1155.8 417.3,1147.5 418.1,1146.2 418.5,1146 418.9,1146.2 419.7,1147.3 422.9,1155.9 423.7,1156.9 424.1,1157 424.5,1156.1 425.3,1151.6 427.7,1130.4 428.5,1125.9 428.9,1125 429.3,1125.6 429.7,1127.8 431.3,1144.7 432.1,1151 432.5,1152 432.9,1149.9 433.7,1136 435.7,1085.7 436.1,1080.1 436.5,1078 436.9,1080.6 437.3,1087.6 439.3,1142.5 439.7,1148.5 440,1150 440.5,1144.1 442.1,1087.3 442.5,1075.9 443,1070 443.3,1071.3 443.7,1076.3 446.1,1137.9 446.5,1144.6 446.9,1147.9 447,1148 447.3,1147.4 448.1,1140.8 450.5,1106.1 450.9,1102.3 451.3,1100.3 451.5,1100 451.7,1100.4 452.1,1103.5 454.1,1137.6 454.5,1142.5 455,1145 455.3,1142 455.7,1130 456.1,1110.7 458.1,983.9 458.5,967.9 459,960 459.3,963 459.7,975 462.1,1121.1 462.5,1137.1 462.9,1144.7 463,1145 463.3,1142.4 463.7,1131.6 466.1,1001.3 466.5,987.1 467,980 467.3,982.7 467.7,993.8 470.1,1128.1 470.5,1142.7 470.9,1149.7 471,1150 471.3,1149.1 472.1,1139.6 475.3,1062.2 476.1,1051.5 476.5,1050 476.9,1052.1 477.7,1066.7 480.1,1143 480.9,1160.4 481.3,1164.5 481.5,1165 481.7,1164.7 482.5,1158.1 484.5,1124.3 485.3,1113.6 485.7,1110.7 486,1110 486.5,1114.7 487.3,1137.9 489.3,1223.8 490.1,1244.9 490.5,1248 490.9,1246 491.7,1232.3 494.1,1159.3 494.9,1141.5 497.3,1109.7 498.1,1103 498.5,1101 498.9,1100 499.3,1101.4 499.7,1106.8 501.7,1156.4 502.1,1162.6 502.5,1165 502.9,1163.7 503.3,1160.3 505.7,1124.7 506.1,1121.3 506.5,1120 506.9,1122.1 507.3,1127.8 509.3,1178.8 510.1,1192.9 510.5,1195 510.9,1194.2 511.3,1192.1 514.1,1163.6 514.5,1161.2 514.9,1160.1 515.3,1160.4 515.7,1162.1 516.5,1168.6 519.7,1208.4 520.5,1213.9 521,1215 521.3,1214.6 521.7,1212.9 522.5,1206.4 525.3,1173.7 526.1,1168.7 526.5,1168 526.9,1168.3 527.3,1169 528.1,1171.5 531.3,1185.9 532.1,1187.7 532.5,1188 532.9,1187.8 533.7,1186.3 534.5,1183.7 537.7,1170.8 540.9,1162.4 542.5,1159.2 543.7,1158.1 544.1,1158 544.9,1158.6 546.1,1160.8 548.5,1166.4 549.3,1167.6 550.1,1168 550.9,1167.1 551.7,1165.1 554.5,1155.1 555.7,1152.3 558.5,1150.3 561.7,1148.9 564.3,1148.5 565.7,1148.9 567.3,1150 571.7,1154.1 572.9,1154.8 573.7,1155 574.5,1155 575.7,1154.5 580.5,1151.4 581.7,1151 582.5,1151.1 584.1,1152 588.1,1156.1 588.9,1156.6 590,1157 611.7,1157.6 616.9,1158.2 629.3,1160 635.3,1160.5 643.7,1160.2 662.5,1158.4 671,1158 677.3,1158.2 684.1,1158.6 690.9,1159.4 698.5,1160.5"/>
<path d="M164.5,1206 165.2,1158 165.7,1147.4 166.1,1142 166.5,1140 171.7,1139.2 177.3,1138.7 190.9,1138.1 248.1,1137.8 284.1,1138.1 308.5,1138.5 319.7,1139.1 331.7,1140.2 343.7,1142.6 346.5,1142.8 348.9,1142.7 351.7,1142.3 354.5,1141.7 363,1139 364.5,1138.3 368.5,1135.7 370.1,1135.1 372.5,1135.1 378.1,1136 379,1136 379.7,1135.8 381.3,1134.2 384.1,1129.9 387.7,1122.8 388.1,1122.3 388.8,1122 389.3,1123.3 389.7,1125.9 391.7,1144.9 392.1,1147.2 392.5,1148 392.9,1147.8 393.7,1146.2 396.1,1139 396.5,1138.3 397,1138 397.7,1138.6 398.1,1139.5 400.9,1148.5 401.7,1149.9 402.1,1150 402.5,1149.4 403.3,1146.6 406.1,1131.7 406.5,1130.6 407,1130 407.3,1130.3 407.7,1131.6 410.1,1147.4 410.5,1149.1 410.9,1150 411.3,1149.8 411.7,1149.2 414.1,1141.3 414.5,1140.4 415,1140 415.7,1140.6 416.1,1141.5 418.9,1150.5 419.3,1151.4 420,1152 420.5,1150.9 420.9,1148.7 423.3,1125.6 424.1,1120.7 424.5,1120 424.9,1120.7 425.7,1125.3 428.1,1146.9 428.5,1149 429,1150 429.3,1149.2 429.7,1146.1 430.1,1141 432.5,1097.6 432.9,1092.9 433.3,1090.3 433.5,1090 433.7,1090.3 434.1,1092.7 434.5,1096.9 436.9,1136.7 437.7,1144.3 438,1145 438.1,1144.8 438.5,1141.3 438.9,1134 441.3,1066.9 441.7,1061.4 442,1060 442.5,1063.4 442.9,1070.3 444.9,1125.2 445.7,1138.7 446,1140 446.1,1139.9 446.5,1137.4 446.9,1132.3 448.9,1091.1 449.3,1084.9 449.7,1081 450,1080 450.5,1082.1 450.9,1086.2 453.3,1129.5 454.1,1138.7 454.5,1140 454.9,1137.5 455.7,1120.7 458.1,1041.4 458.5,1033.8 459,1030 459.3,1031.4 459.7,1037.2 460.1,1046.5 462.5,1126.1 462.9,1134.7 463.3,1139.4 463.5,1140 463.7,1139.5 464.1,1136.1 464.5,1129.9 466.9,1072 467.3,1065.2 467.7,1061 468,1060 468.5,1062.5 468.9,1067.7 471.7,1134.9 472.5,1147.5 472.9,1149.9 473,1150 473.3,1149.3 474.1,1141.3 476.9,1088.7 477.3,1083.7 477.7,1080.7 478,1080 478.5,1082 478.9,1086 481.7,1138.3 482.5,1148 482.9,1149.9 483,1150 483.3,1149.7 484.1,1146.3 486.9,1123.7 487.7,1120.3 488.1,1120 488.5,1121.1 489.3,1126.7 492.1,1156.6 492.5,1158.9 492.9,1160 493.3,1159.6 493.7,1158.1 494.5,1152.4 496.9,1129.3 497.7,1125.4 498.1,1125 498.5,1126.1 499.3,1131.7 501.3,1154.3 502.5,1163.9 503,1165 503.3,1164.7 503.7,1163.7 504.5,1159.6 506.9,1143.1 507.7,1140.3 508.1,1140 508.5,1140.7 508.9,1142.1 509.7,1146.8 512.5,1169.5 513.3,1173.7 513.7,1174.7 514,1175 514.5,1174.5 515.3,1172 518.5,1153.9 519.3,1150.9 519.7,1150.2 520,1150 520.5,1150.4 521.3,1152.7 522.5,1158.7 525.3,1175.6 526.1,1178.6 526.5,1179.6 527,1180 527.7,1179.6 528.1,1179.2 528.9,1177.7 532.9,1165.8 534.1,1163.2 538.1,1157.1 539.7,1155.1 541.3,1153.5 543.3,1152.2 546.1,1151.4 561.3,1149.2 564.3,1149 565.7,1149.3 567.3,1150.1 571.7,1153.3 573.7,1154 575.7,1153.7 580.5,1151.3 581.7,1151 582.5,1151.1 584.1,1151.9 588.1,1155.7 588.9,1156.2 590,1156.5 606.5,1156 612.1,1156.1 617.7,1156.6 630.5,1158.6 637.3,1159 645.7,1158.5 664.5,1156.3 668.9,1156 673.7,1156 685.7,1156.8 698.5,1158.5"/>
</g>
<path d="M161.9,1356.8 v11.2 M215.5,1356.8 v11.2 M269.2,1356.8 v11.2 M322.8,1356.8 v11.2 M376.4,1356.8 v11.2 M430.1,1356.8 v11.2 M483.7,1356.8 v11.2 M537.3,1356.8 v11.2 M590.9,1356.8 v11.2 M644.6,1356.8 v11.2 M698.2,1356.8 v11.2 M161.9,1356.8 h-11.2 M161.9,1303.2 h-11.2 M161.9,1249.5 h-11.2 M161.9,1195.9 h-11.2 M161.9,1142.2 h-11.2 M161.9,1088.6 h-11.2 M161.9,1035 h-11.2 M161.9,981.3 h-11.2 M161.9,927.7 h-11.2 M161.9,874 h-11.2 M161.9,820.4 h-11.2" fill="none" stroke="#231f20" stroke-width="2.5"/>
<rect x="161.9" y="820.4" width="536.3" height="536.4" fill="none" stroke="#231f20" stroke-width="2.6"/>
<g font-family="DejaVu Sans, Liberation Sans, sans-serif" font-size="37.8" fill="#231f20">
<text x="161.9" y="1407.4" text-anchor="middle">0</text>
<text x="215.5" y="1407.4" text-anchor="middle">10</text>
<text x="269.2" y="1407.4" text-anchor="middle">20</text>
<text x="322.8" y="1407.4" text-anchor="middle">30</text>
<text x="376.4" y="1407.4" text-anchor="middle">40</text>
<text x="430.1" y="1407.4" text-anchor="middle">50</text>
<text x="483.7" y="1407.4" text-anchor="middle">60</text>
<text x="537.3" y="1407.4" text-anchor="middle">70</text>
<text x="590.9" y="1407.4" text-anchor="middle">80</text>
<text x="644.6" y="1407.4" text-anchor="middle">90</text>
<text x="698.2" y="1407.4" text-anchor="middle">100</text>
<text x="139.7" y="1371.2" text-anchor="end">−0.8</text>
<text x="139.7" y="1317.6" text-anchor="end">−0.6</text>
<text x="139.7" y="1263.9" text-anchor="end">−0.4</text>
<text x="139.7" y="1210.3" text-anchor="end">−0.2</text>
<text x="139.7" y="1156.6" text-anchor="end">0.0</text>
<text x="139.7" y="1103" text-anchor="end">0.2</text>
<text x="139.7" y="1049.4" text-anchor="end">0.4</text>
<text x="139.7" y="995.7" text-anchor="end">0.6</text>
<text x="139.7" y="942.1" text-anchor="end">0.8</text>
<text x="139.7" y="888.4" text-anchor="end">1.0</text>
<text x="139.7" y="834.8" text-anchor="end">1.2</text>
<text x="429.8" y="1455.5" text-anchor="middle" font-size="37.75">Time (ms)</text>
<text transform="translate(29,1088.6) rotate(-90)" text-anchor="middle" font-size="37.75">Amplitude (mV)</text>
<text x="429.8" y="801.5" text-anchor="middle" font-size="45.3">AH-R</text>
</g>
</g>
<g id="ax3">
<path d="M984.3,1356.8 V820.4 M1037.9,1356.8 V820.4 M1091.4,1356.8 V820.4 M1145,1356.8 V820.4 M1198.6,1356.8 V820.4 M1252.2,1356.8 V820.4 M1305.8,1356.8 V820.4 M1359.3,1356.8 V820.4 M1412.9,1356.8 V820.4 M930.7,1303.2 H1466.5 M930.7,1249.5 H1466.5 M930.7,1195.9 H1466.5 M930.7,1142.2 H1466.5 M930.7,1088.6 H1466.5 M930.7,1035 H1466.5 M930.7,981.3 H1466.5 M930.7,927.7 H1466.5 M930.7,874 H1466.5" fill="none" stroke="#909295" stroke-width="2.6" stroke-dasharray="8.9 4.37" stroke-dashoffset="0"/>
<g clip-path="url(#c3)" fill="none" stroke="#231f20" stroke-width="4.6" stroke-linejoin="round" stroke-linecap="round">
<path d="M931.9,810 931.9,1370"/>
<path d="M933.2,1370 933.4,1200 934.2,1160 935,1150"/>
<path d="M933.2,1383.6 933.6,1188 934,1161.8 934.3,1152.9 935.2,1147.7 936,1145.5 937.6,1144.1 938.4,1143.7 939.3,1143.5 968.8,1143.2 1114.8,1142.5 1162.4,1142 1180,1141.5 1182.8,1141.4 1184,1140.9 1185.6,1139.6 1190,1135.1 1191.2,1134.4 1192.2,1134.2 1192.8,1134.5 1193.6,1135.8 1196.4,1143.8 1197.6,1146.6 1198.4,1147.5 1199.6,1147.4 1200.8,1146.6 1202,1145.1 1203.2,1142.8 1203.6,1141.5 1204,1135.7 1205.6,1093.9 1208,1050.6 1208.8,1040.4 1210.8,1020.5 1211.6,1015.1 1212,1013.4 1212.5,1012.4 1213.2,1013.3 1213.6,1014.8 1215.2,1025.4 1217.2,1043.6 1218.8,1062.8 1220.6,1093.9 1222.2,1142.2 1223.6,1166.8 1224.8,1182.2 1226.4,1195 1228.4,1207.7 1230,1214.3 1230.8,1215.9 1231.2,1216.2 1231.6,1216.1 1232,1215.4 1233.2,1210.5 1239.2,1172.1 1240.8,1164.2 1242.8,1158.9 1244,1156.5 1245.6,1154.1 1247.6,1152 1251.2,1149.4 1252.8,1148.1 1254.4,1146.1 1255.6,1144 1256.8,1138.2 1259.6,1118.6 1262,1107.1 1262.8,1104.2 1263.6,1102.5 1264,1102.2 1264.4,1102.5 1264.8,1103.1 1265.6,1105.5 1269.2,1122.8 1272,1134.2 1273.6,1139.5 1276,1144.2 1278,1147.2 1279.6,1148.9 1280.4,1149.3 1281.1,1149.4 1281.6,1148.9 1282,1147.7 1282.8,1143.5 1285.2,1125.3 1286.4,1118.4 1287.6,1114.9 1290,1109.3 1292.8,1100.3 1293.6,1098.9 1294,1098.8 1294.4,1099.2 1295.2,1102.4 1296,1107.9 1301.2,1151.2 1302.8,1159.5 1303.6,1162.4 1304,1163 1304.4,1163.1 1305.2,1161.9 1306.4,1156.9 1307.9,1144.3 1308.8,1101.8 1309.6,1081.6 1310.8,1063.9 1315.2,1015.1 1316.8,1001.5 1318.8,990.8 1320,985.5 1320.8,982.9 1321.6,981.1 1322.4,980.5 1322.8,981.3 1323.2,983.5 1324,991.4 1326.8,1030.3 1328.4,1055.4 1330,1084.5 1334.4,1181 1335.2,1195 1337.2,1221.1 1338.4,1234.1 1339.6,1242.8 1340.4,1245.3 1340.8,1245.4 1341.2,1244.5 1342,1240.5 1343.6,1226.1 1346.8,1191.9 1352.4,1121.5 1353.6,1108.3 1356,1088.1 1357.2,1079.4 1358.4,1073.6 1359.2,1072 1359.6,1072 1360,1072.8 1360.8,1075.9 1361.6,1081 1362.8,1091.2 1364.4,1106.8 1366.8,1143.9 1369.2,1173.8 1371.2,1190.3 1371.6,1192.6 1372,1194 1372.2,1194.2 1372.8,1193.6 1373.2,1192.5 1375.6,1182.8 1376.8,1180.5 1378.4,1178.1 1380.8,1175.2 1384.8,1171.5 1390.8,1167.1 1393.2,1164.9 1395.6,1162 1400.8,1154.9 1406,1149.5 1408,1146.3 1408.8,1144.5 1409.2,1142.9 1411.6,1125.9 1414.8,1107.7 1416,1102.7 1416.8,1100.9 1417.2,1100.6 1417.6,1100.8 1418.4,1102 1419.6,1106 1423.2,1124.6 1424.4,1132.3 1430,1174.1 1431.2,1180.7 1432,1182.8 1432.4,1183 1433.2,1182.4 1434,1181.2 1434.8,1179.5 1443.2,1154.6 1444.8,1150.5 1447.6,1145.6 1448.8,1144 1449.6,1143.2 1450.8,1142.7 1451.2,1142.9 1452,1143.9 1453.2,1146.7 1456,1154.6 1456.8,1156.2 1457.6,1157.1 1460.8,1157.1 1463.2,1156.4 1465.2,1155.1 1467,1152.9"/>
<path d="M933.2,1383.6 933.5,1195.8 934,1152.5 934.3,1142.2 935.6,1140.5 937.2,1139.4 939.3,1139 1048,1139 1145,1138.7 1182.5,1139 1183.6,1138.6 1184.8,1137.4 1190,1128.8 1191.2,1127.5 1192.2,1127.2 1192.8,1127.4 1193.6,1128.5 1194.8,1131.3 1198.8,1145.6 1200.4,1150.4 1201.6,1152.5 1202.4,1152.9 1202.8,1152.7 1203.6,1150.8 1204.8,1145.4 1211.6,1100.6 1212.4,1096.1 1213.2,1093.3 1213.6,1092.9 1214,1093.2 1214.8,1095.7 1217.6,1112.1 1222,1130.2 1223.6,1134.5 1224.4,1135.6 1224.9,1135.8 1225.2,1135.6 1225.6,1134.7 1226.4,1131.5 1229.6,1110.6 1232.8,1092.3 1234.4,1084.8 1236.4,1079.3 1238.4,1074.9 1240,1072.4 1240.8,1071.7 1241.7,1071.4 1242.4,1072 1242.8,1072.9 1243.6,1075.9 1244.8,1082.4 1246.4,1093.4 1249.6,1134 1254.4,1183.3 1256,1196.1 1256.8,1198.9 1257.2,1199 1257.6,1198.7 1258.4,1197.3 1259.6,1193.2 1262.4,1178.4 1263.2,1171.6 1265.6,1144.4 1267.6,1128.8 1269.2,1118.3 1270.4,1112.2 1272,1106.5 1273.6,1101.9 1274.8,1100 1275.2,1099.8 1275.6,1100 1276,1100.6 1276.8,1102.9 1277.6,1106.4 1282,1132.2 1285.6,1156.2 1290,1177.2 1291.6,1182.2 1292.4,1183.5 1292.8,1183.8 1293.2,1183.7 1294,1182.9 1295.2,1180.3 1297.2,1173 1300.8,1156.6 1302.4,1146.8 1308,1108.8 1310.4,1090 1313.6,1054.1 1314.9,1043 1317.6,1026.8 1319.2,1018.9 1320.8,1013.4 1321.6,1011.9 1322.4,1011.3 1322.8,1011.8 1323.2,1013.2 1324.4,1021.7 1327.6,1055.9 1330.4,1096.6 1336,1199.5 1338,1223.8 1339.2,1236 1340.4,1243.9 1340.8,1245.1 1341.1,1245.5 1341.6,1244.9 1342,1243.7 1342.8,1239.4 1344.9,1222.7 1346,1211.6 1348.4,1182.2 1350.4,1164 1351.6,1156.5 1352.8,1153.5 1354.8,1150.3 1358.8,1145.8 1366.8,1138 1368.4,1136.8 1372,1135.5 1376,1134.4 1382.9,1133.1 1386.8,1131.7 1388.3,1131.5 1390,1131.9 1394.8,1134.9 1396.8,1135.5 1403.6,1135.3 1414,1134.6 1427.2,1132.9 1432.8,1132.5 1436,1132.9 1442.4,1135 1445.2,1135.5 1458,1135.3 1467,1134.7"/>
<path d="M933.2,1383.6 933.5,1195.8 934,1158.8 934.3,1150.2 935.6,1148.9 936.8,1148.1 938,1147.7 939.3,1147.6 989.2,1147.1 1182.5,1147 1183.6,1146.9 1184.8,1146.5 1190.8,1142.9 1192,1142.4 1193.2,1142.2 1194.4,1142.6 1195.6,1143.7 1200.4,1150.4 1201.6,1151.4 1202.4,1151.6 1202.8,1151.3 1203.2,1150.6 1204,1148.2 1206.8,1134.5 1208,1129.6 1211.2,1121.4 1212.4,1118.9 1213.2,1117.7 1214,1117 1215.2,1116.8 1219.6,1118.5 1222,1118.5 1225.6,1117.9 1227.6,1117.2 1228.8,1116.6 1229.6,1113.6 1232,1096.1 1233.6,1087.5 1234.8,1082.1 1235.2,1081.1 1235.6,1080.8 1236,1081.1 1236.4,1082.2 1237.2,1085.8 1241.6,1113.1 1244.4,1132.8 1248.8,1168.8 1249.2,1171.6 1249.6,1172.5 1250,1172.1 1250.8,1170 1253.6,1156.5 1256.8,1144.5 1260.4,1134.7 1261.6,1132.5 1262.4,1131.6 1262.9,1131.5 1263.6,1131.6 1264.8,1132.4 1266.4,1134.2 1268.8,1137.6 1273.2,1146.8 1276.4,1152.9 1277.6,1154.7 1278.4,1155.4 1279,1155.6 1279.6,1155.4 1280.4,1154.3 1282,1150.4 1284.4,1142.1 1285.2,1138.1 1288.4,1116.5 1290,1110 1290.8,1107.8 1291.2,1107.4 1291.6,1107.6 1292,1108.7 1292.8,1113.3 1295.6,1138.4 1297.6,1151.6 1298.4,1156 1298.8,1157.5 1299.3,1158.3 1299.6,1157.6 1300,1154 1302.8,1104.1 1303.2,1098.3 1303.6,1095.5 1304.4,1095.9 1305.6,1097.7 1307.6,1103.1 1311.6,1116.9 1315.2,1131.4 1318.8,1143.8 1319.6,1145.5 1320,1145.9 1320.4,1145.9 1321.2,1145 1322.4,1141.8 1326.8,1125.3 1328.8,1115.6 1330,1105.1 1332.4,1076.9 1334.8,1054.7 1335.6,1049.3 1337.2,1042 1338,1039.3 1338.4,1038.4 1339,1037.9 1339.6,1038.7 1340.4,1042.3 1342.8,1062.1 1344,1077.5 1348,1142.1 1349.2,1158.3 1351.6,1181.5 1353.6,1197.3 1354.4,1201.1 1354.5,1201.2 1354.8,1201 1355.6,1197.4 1357.6,1180.9 1360.8,1158.7 1361.5,1155.6 1363.2,1150.6 1364.4,1148.2 1365.2,1147.6 1366.4,1147.8 1367.6,1148.6 1372,1152.7 1378.4,1157.5 1382.8,1162.5 1383.6,1163.1 1384.5,1163.4 1385.2,1163.2 1386,1162.4 1389.2,1156.7 1390.4,1155.1 1394.8,1151.6 1396.4,1150.7 1398,1150.3 1401.2,1150.4 1409.2,1151.8 1412.8,1152.1 1416.8,1151.9 1424.4,1150.6 1427.6,1150.3 1431.6,1150.3 1436.8,1150.6 1446,1151.8 1448.4,1152.5 1454,1154.9 1455.6,1155.4 1457.2,1155.6 1459.6,1155.4 1462,1154.8 1464.4,1153.7 1467,1152.1"/>
<path d="M933.2,1383.6 933.5,1195.8 934,1148.3 934.3,1136.8 935.6,1135.3 937.2,1134.3 938.8,1133.9 943.2,1133.9 1048.8,1133.6 1184.8,1132.6 1186.8,1132.3 1192,1130.5 1194.4,1130.1 1195.6,1130.3 1197.2,1131 1201.3,1134.2 1202.4,1135.6 1205.2,1141 1206,1141.9 1206.6,1142.2 1207.2,1141.8 1208,1139.7 1210.4,1129.7 1211.6,1126.4 1212,1126.1 1212.4,1126.1 1213.6,1126.6 1217.6,1130.3 1218.8,1131.1 1220,1131.5 1220.8,1131.2 1221.6,1130.5 1222.8,1128.6 1226.4,1120.9 1228,1118.2 1231.6,1113.4 1233.2,1111.6 1234.8,1110.4 1236.1,1110 1236.8,1110.3 1237.2,1110.7 1238.4,1112.7 1242,1122.2 1243.6,1128.2 1246.8,1142.3 1248.4,1147.4 1250.8,1153 1252.4,1156.1 1253.6,1157.6 1254.8,1158.3 1255.6,1158 1256.4,1157 1257.2,1155.4 1258.4,1152.1 1263.6,1134.7 1266.8,1122.1 1268,1118.2 1268.8,1116.4 1269.6,1115.5 1270.4,1115.5 1271.2,1116.2 1272.4,1118.3 1273.6,1121.2 1276.8,1130.1 1278.4,1135.4 1282.8,1153.1 1286,1168.5 1287.5,1174.4 1289.6,1179.4 1290.4,1181 1291.2,1182 1291.8,1182.4 1292.8,1182.7 1295.6,1183 1296,1182.6 1296.8,1179.6 1299.6,1159.8 1300.4,1155.7 1301.6,1152.2 1305.2,1144.1 1306.4,1139.8 1307.6,1133.9 1309.2,1123.7 1313.2,1089.2 1315.6,1073.1 1317.2,1064.7 1318,1062 1319.2,1059.4 1320.4,1057.4 1321.2,1056.6 1321.8,1056.4 1323.2,1056.4 1327.2,1056.9 1327.6,1057.3 1328,1058.5 1328.8,1062.5 1330.8,1078.8 1332,1097.5 1336.4,1179.5 1338.8,1218 1340,1234.7 1340.8,1240.7 1341.1,1241.4 1341.6,1240.8 1342,1239.2 1342.8,1233.9 1348.4,1181.2 1349.2,1174.7 1350,1170 1351.2,1166.3 1352.4,1163.7 1356,1157.6 1359.6,1150 1360.4,1148.8 1361.2,1147.9 1362,1147.6 1362.8,1147.9 1363.2,1148.3 1364,1149.4 1367.2,1155.3 1370.8,1159.9 1372,1160.8 1372.7,1161 1374.4,1160.8 1376,1160.3 1389.2,1154.8 1391.2,1154.3 1396.4,1153.8 1409.2,1153.1 1433.6,1152.4 1450,1152.5 1467,1152.9"/>
</g>
<path d="M930.7,1356.8 v11.2 M984.3,1356.8 v11.2 M1037.9,1356.8 v11.2 M1091.4,1356.8 v11.2 M1145,1356.8 v11.2 M1198.6,1356.8 v11.2 M1252.2,1356.8 v11.2 M1305.8,1356.8 v11.2 M1359.3,1356.8 v11.2 M1412.9,1356.8 v11.2 M1466.5,1356.8 v11.2 M930.7,1356.8 h-11.2 M930.7,1303.2 h-11.2 M930.7,1249.5 h-11.2 M930.7,1195.9 h-11.2 M930.7,1142.2 h-11.2 M930.7,1088.6 h-11.2 M930.7,1035 h-11.2 M930.7,981.3 h-11.2 M930.7,927.7 h-11.2 M930.7,874 h-11.2 M930.7,820.4 h-11.2" fill="none" stroke="#231f20" stroke-width="2.5"/>
<rect x="930.7" y="820.4" width="535.8" height="536.4" fill="none" stroke="#231f20" stroke-width="2.6"/>
<g font-family="DejaVu Sans, Liberation Sans, sans-serif" font-size="37.8" fill="#231f20">
<text x="930.7" y="1407.4" text-anchor="middle">0</text>
<text x="984.3" y="1407.4" text-anchor="middle">10</text>
<text x="1037.9" y="1407.4" text-anchor="middle">20</text>
<text x="1091.4" y="1407.4" text-anchor="middle">30</text>
<text x="1145" y="1407.4" text-anchor="middle">40</text>
<text x="1198.6" y="1407.4" text-anchor="middle">50</text>
<text x="1252.2" y="1407.4" text-anchor="middle">60</text>
<text x="1305.8" y="1407.4" text-anchor="middle">70</text>
<text x="1359.3" y="1407.4" text-anchor="middle">80</text>
<text x="1412.9" y="1407.4" text-anchor="middle">90</text>
<text x="1466.5" y="1407.4" text-anchor="middle">100</text>
<text x="908.5" y="1371.2" text-anchor="end">−0.8</text>
<text x="908.5" y="1317.6" text-anchor="end">−0.6</text>
<text x="908.5" y="1263.9" text-anchor="end">−0.4</text>
<text x="908.5" y="1210.3" text-anchor="end">−0.2</text>
<text x="908.5" y="1156.6" text-anchor="end">0.0</text>
<text x="908.5" y="1103" text-anchor="end">0.2</text>
<text x="908.5" y="1049.4" text-anchor="end">0.4</text>
<text x="908.5" y="995.7" text-anchor="end">0.6</text>
<text x="908.5" y="942.1" text-anchor="end">0.8</text>
<text x="908.5" y="888.4" text-anchor="end">1.0</text>
<text x="908.5" y="834.8" text-anchor="end">1.2</text>
<text x="1198.3" y="1455.5" text-anchor="middle" font-size="37.75">Time (ms)</text>
<text transform="translate(797.8,1088.6) rotate(-90)" text-anchor="middle" font-size="37.75">Amplitude (mV)</text>
<text x="1198.3" y="801.5" text-anchor="middle" font-size="45.3">AH-L</text>
</g>
</g>
</svg>
</body>
</html>
